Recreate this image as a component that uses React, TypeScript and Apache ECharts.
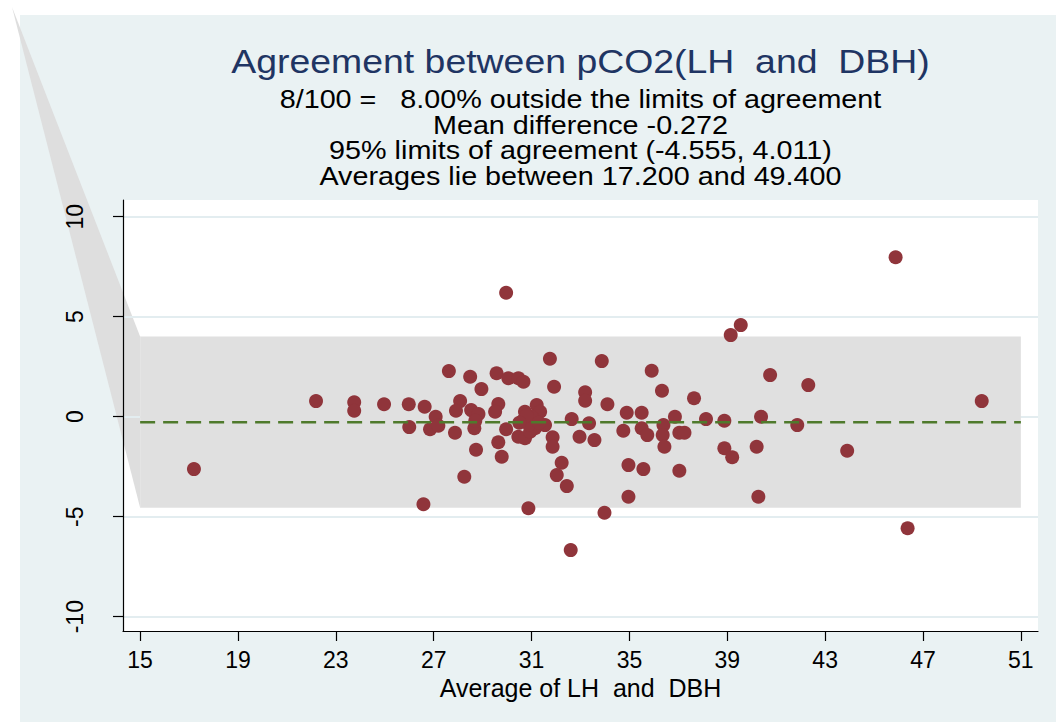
import React, { useEffect, useRef } from 'react';
import * as echarts from 'echarts';

const titleText = 'Agreement between pCO2(LH  and  DBH)';
const subtitleLines = [
  '8/100 =   8.00% outside the limits of agreement',
  'Mean difference -0.272',
  '95% limits of agreement (-4.555, 4.011)',
  'Averages lie between 17.200 and 49.400',
];
const xAxisName = 'Average of LH  and  DBH';
const xTicks = [15, 19, 23, 27, 31, 35, 39, 43, 47, 51];
const yTicks = [-10, -5, 0, 5, 10];
const meanDiff = -0.272;
const lowerLimit = -4.555;
const upperLimit = 4.011;
const bandStart = 15;
const bandEnd = 51;

const averages = [
  17.2, 22.19, 23.75, 23.75, 24.97, 25.98, 26.0, 26.63, 26.58, 27.08,
  26.85, 27.19, 27.62, 27.87, 28.08, 27.91, 28.25, 28.49, 28.95, 28.53,
  28.83, 28.66, 28.73, 28.7, 29.57, 29.64, 29.51, 29.96, 29.64, 29.78,
  30.05, 30.46, 30.67, 29.96, 31.75, 31.92, 33.87, 35.91, 36.33, 37.64,
  40.75, 39.14, 39.55, 31.21, 30.73, 31.35, 30.67, 31.55, 31.14, 30.46,
  30.73, 30.94, 31.86, 31.86, 32.23, 32.03, 32.44, 30.87, 33.98, 32.64,
  33.19, 33.19, 33.35, 32.96, 33.57, 34.1, 34.89, 35.5, 34.75, 35.5,
  35.73, 34.96, 35.57, 34.96, 36.39, 36.86, 36.36, 36.43, 37.04, 37.25,
  37.04, 38.13, 38.88, 38.88, 39.2, 40.38, 40.2, 40.27, 41.86, 42.31,
  45.88, 49.4, 43.9, 46.37, 32.6, 31.0, 30.9, 31.3, 30.8, 30.5,
];
const differences = [
  -2.62, 0.78, 0.72, 0.3, 0.62, 0.62, -0.52, 0.5, -4.38, 0.0,
  -0.63, -0.45, 2.28, -0.8, 0.78, 0.3, -3.0, 2.0, 1.38, 0.33,
  0.13, -0.58, -1.65, -0.2, 2.17, 0.63, 0.25, -0.63, -1.28, -2.0,
  1.92, 1.92, 1.75, 6.2, 2.9, 1.5, 2.78, 2.3, 1.3, 0.92,
  2.08, 4.08, 4.58, 0.58, 0.25, 0.25, -0.17, -0.42, -0.58, -1.0,
  -1.08, -0.75, -1.03, -1.5, -2.3, -2.92, -3.47, -4.58, -4.8, -0.12,
  1.22, 0.8, -0.33, -1.0, -1.17, 0.62, 0.2, 0.2, -0.7, -0.58,
  -0.92, -2.42, -2.62, -4.0, -0.42, 0.0, -0.92, -1.5, -0.8, -0.8,
  -2.7, -0.12, -0.2, -1.58, -2.03, 0.0, -1.5, -4.0, -0.42, 1.58,
  7.97, 0.78, -1.7, -5.58, -6.67, 0.0, -0.4, -0.3, 0.05, -0.3,
];

const FONT = '"Liberation Sans", Arial, Helvetica, sans-serif';
const W = 1056;
const H = 722;
const GRID = { left: 123, right: 18, top: 200, bottom: 91 };

export default function App() {
  const ref = useRef<HTMLDivElement>(null);

  useEffect(() => {
    if (!ref.current) return;
    const chart = echarts.init(ref.current, undefined, { renderer: 'svg', width: W, height: H });
    const points = averages.map((a, i) => [a, differences[i]]);

    chart.setOption({
      animation: false,
      backgroundColor: '#ffffff',
      grid: { ...GRID, containLabel: false },
      xAxis: {
        type: 'value',
        min: 14.3,
        max: 51.7,
        name: xAxisName,
        nameLocation: 'middle',
        nameGap: 41,
        nameTextStyle: { fontSize: 25, color: '#000', fontFamily: FONT },
        axisLine: { show: true, onZero: false, lineStyle: { color: '#000', width: 1.2 } },
        axisTick: { show: true, length: 10, customValues: xTicks, lineStyle: { color: '#000', width: 1.2 } },
        axisLabel: { customValues: xTicks, fontSize: 23, color: '#000', fontFamily: FONT, margin: 17 },
        splitLine: { show: false },
      },
      yAxis: {
        type: 'value',
        min: -10.715,
        max: 10.835,
        axisLine: { show: true, onZero: false, lineStyle: { color: '#000', width: 1.2 } },
        axisTick: { show: true, length: 10, customValues: yTicks, lineStyle: { color: '#000', width: 1.2 } },
        axisLabel: { customValues: yTicks, fontSize: 23, color: '#000', fontFamily: FONT, rotate: 90, margin: 37 },
        splitLine: { show: true, lineStyle: { color: '#e3edf0', width: 2 } },
      },
      series: [
        {
          type: 'custom',
          z: 1,
          silent: true,
          clip: false,
          encode: { x: [0, 1], y: [2, 3] },
          data: [[bandStart, bandEnd, lowerLimit, upperLimit]],
          renderItem: (params: any, api: any) => {
            const p1 = api.coord([api.value(0), api.value(3)]);
            const p2 = api.coord([api.value(1), api.value(2)]);
            return {
              type: 'rect',
              shape: { x: p1[0], y: p1[1], width: p2[0] - p1[0], height: p2[1] - p1[1] },
              style: { fill: '#e0e0e0' },
            };
          },
        },
        {
          type: 'scatter',
          z: 3,
          symbol: 'circle',
          symbolSize: 14,
          itemStyle: { color: '#90353b', opacity: 1 },
          data: points,
        },
        {
          type: 'custom',
          z: 5,
          silent: true,
          clip: false,
          encode: { x: [0, 1], y: 2 },
          data: [[bandStart, bandEnd, meanDiff]],
          renderItem: (params: any, api: any) => {
            const p1 = api.coord([api.value(0), api.value(2)]);
            const p2 = api.coord([api.value(1), api.value(2)]);
            return {
              type: 'line',
              shape: { x1: p1[0], y1: p1[1], x2: p2[0], y2: p2[1] },
              style: { stroke: '#4f7a2c', lineWidth: 2.5, lineDash: [15, 8] },
            };
          },
        },
      ],
    });

    const topLeft = chart.convertToPixel({ gridIndex: 0 }, [bandStart, upperLimit]) as number[];
    const botLeft = chart.convertToPixel({ gridIndex: 0 }, [bandStart, lowerLimit]) as number[];
    const plotW = W - GRID.left - GRID.right;
    const plotH = H - GRID.top - GRID.bottom;
    const centerX = GRID.left + plotW / 2;

    const textEls: any[] = [
      {
        type: 'text',
        x: centerX,
        y: 62,
        scaleX: 1.1,
        z: 10,
        style: { text: titleText, fontSize: 34, fontFamily: FONT, fill: '#1f3563', align: 'center', verticalAlign: 'middle' },
      },
      ...subtitleLines.map((t, i) => ({
        type: 'text',
        x: centerX,
        y: 100 + i * 25.5,
        scaleX: 1.15,
        z: 10,
        style: { text: t, fontSize: 25, fontFamily: FONT, fill: '#000', align: 'center', verticalAlign: 'middle' },
      })),
    ];

    chart.setOption({
      graphic: [
        { type: 'rect', z: -10, silent: true, shape: { x: 20, y: 15, width: W - 20, height: H - 15 }, style: { fill: '#eaf2f3' } },
        { type: 'rect', z: -9, silent: true, shape: { x: GRID.left, y: GRID.top, width: plotW, height: plotH }, style: { fill: '#ffffff' } },
        {
          type: 'polygon',
          z: -8,
          silent: true,
          shape: { points: [[12, 7], [topLeft[0], topLeft[1]], [botLeft[0], botLeft[1]]] },
          style: { fill: '#dedede' },
        },
        ...textEls,
      ],
    });

    return () => chart.dispose();
  }, []);

  return <div ref={ref} style={{ position: 'fixed', left: 0, top: 0, width: W, height: H }} />;
}
